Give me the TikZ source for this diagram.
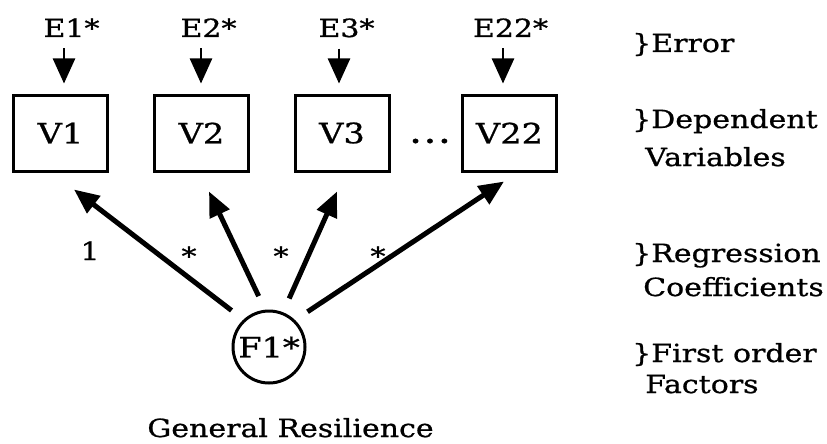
\documentclass[tikz,border=0pt]{standalone}
\usepackage{fontspec}
\setmainfont{DejaVu Serif}[FakeStretch=1.2, FakeBold=0.8]
\usetikzlibrary{arrows.meta}

\begin{document}
\begin{tikzpicture}[x=1pt,y=-1pt,
  lbl/.style={font=\fontsize{25}{30}\selectfont, inner sep=0pt},
  biglbl/.style={font=\fontsize{28}{32}\selectfont, inner sep=0pt},
  varbox/.style={biglbl, draw, line width=3pt, minimum width=94pt, minimum height=76pt},
  factor/.style={biglbl, draw, circle, line width=3pt, minimum size=72pt},
  errarrow/.style={-{Triangle[length=25pt,width=22pt]}, line width=2.5pt,
                   shorten <=11pt, shorten >=10pt},
  regarrow/.style={-{Triangle[length=25pt,width=21pt]}, line width=5pt,
                   shorten <=15pt},
]
\useasboundingbox (0,0) rectangle (827,444);

% error terms
\node[lbl, anchor=base] (E1)  at (64,37)  {E1\rlap{*}};
\node[lbl, anchor=base] (E2)  at (201,37) {E2\rlap{*}};
\node[lbl, anchor=base] (E3)  at (339,37) {E3\rlap{*}};
\node[lbl, anchor=base] (E22) at (503,37) {E22\rlap{*}};

% dependent variables
\node[varbox] (V1)  at (60.5,133)  {V1};
\node[varbox] (V2)  at (201.5,133) {V2};
\node[varbox] (V3)  at (342,133)   {V3};
\node[varbox] (V22) at (509.5,133) {V22};
\node[lbl, anchor=base, font=\fontsize{25}{30}\selectfont\bfseries] (dots) at (430,143)
  {.\hspace{4pt}.\hspace{4pt}.};

% first order factor
\node[factor] (F1) at (269,347) {F1*};
\node[lbl, anchor=base] (GR) at (290.5,437) {General Resilience};

% error arrows
\draw[errarrow] (E1.south)  -- (E1.south |- V1.north);
\draw[errarrow] (E2.south)  -- (E2.south |- V2.north);
\draw[errarrow] (E3.south)  -- (E3.south |- V3.north);
\draw[errarrow] (E22.south) -- (E22.south |- V22.north);

% regression arrows
\coordinate (t1) at ([xshift=13.5pt,yshift=-17pt]V1.south);
\coordinate (t2) at ([xshift=7.5pt,yshift=-19pt]V2.south);
\coordinate (t3) at ([xshift=-5pt,yshift=-19pt]V3.south);
\coordinate (t4) at ([xshift=-5.5pt,yshift=-9pt]V22.south);
\draw[regarrow] (F1.133) -- (t1);
\draw[regarrow] (F1.96)  -- (t2);
\draw[regarrow] (F1.68)  -- (t3);
\draw[regarrow] (F1.46)  -- (t4);

% coefficients
\node[lbl, anchor=base] (c1) at (90,260)  {1};
\node[lbl, anchor=base] (c2) at (189,265) {*};
\node[lbl, anchor=base] (c3) at (281,265) {*};
\node[lbl, anchor=base] (c4) at (378,265) {*};

% level labels
\node[lbl, anchor=base west] (lerr)  at (632,52)  {\}Error};
\node[lbl, anchor=base west] (ldep)  at (632,128) {\}Dependent};
\node[lbl, anchor=base west] (ldep2) at (645,166) {Variables};
\node[lbl, anchor=base west] (lreg)  at (632,262) {\}Regression};
\node[lbl, anchor=base west] (lreg2) at (643,296) {Coefficients};
\node[lbl, anchor=base west] (lfac)  at (632,362) {\}First order};
\node[lbl, anchor=base west] (lfac2) at (645,393) {Factors};
\end{tikzpicture}
\end{document}
